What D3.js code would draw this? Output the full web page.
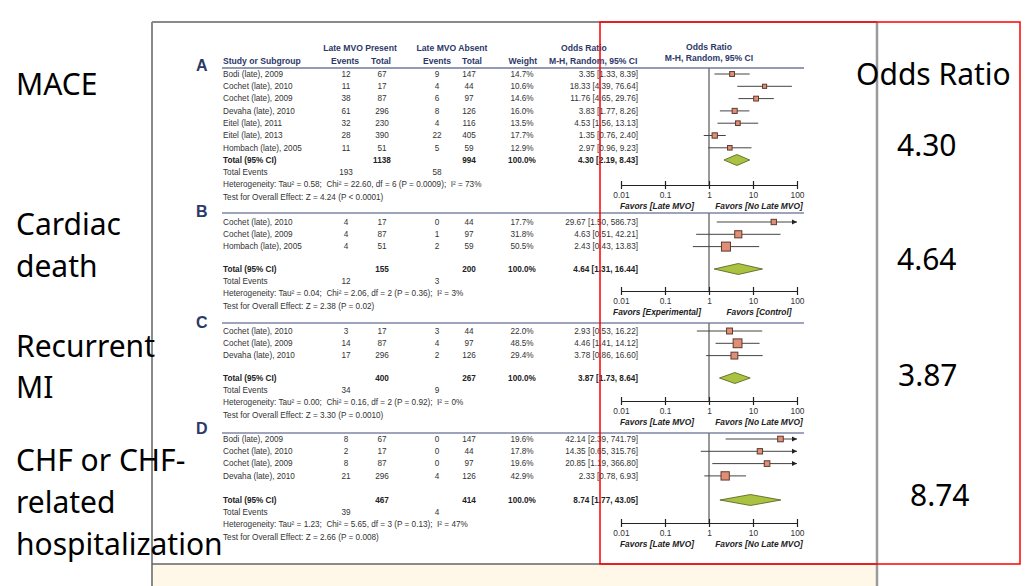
<!DOCTYPE html>
<html><head><meta charset="utf-8">
<script src="https://cdn.jsdelivr.net/npm/d3@7"></script>
<style>
body{margin:0;background:#fff}
text{white-space:pre}
</style>
</head><body>
<svg id="c" width="1035" height="586"></svg>
<script>
// ---------- DATA ----------
const outcomeLabels = [["MACE"], ["Cardiac","death"], ["Recurrent","MI"], ["CHF or CHF-","related","hospitalization"]];
const pooledORLabels = ["4.30","4.64","3.87","8.74"];
const rightTitle = "Odds Ratio";
const panelLetters = ["A","B","C","D"];
const tickValues = [0.01, 0.1, 1, 10, 100];
const tickLabels = ["0.01","0.1","1","10","100"];
const favorsLeft = ["Favors [Late MVO]","Favors [Experimental]","Favors [Late MVO]","Favors [Late MVO]"];
const favorsRight = ["Favors [No Late MVO]","Favors [Control]","Favors [No Late MVO]","Favors [No Late MVO]"];

// [study, events present, total present, events absent, total absent, weight %, OR, lower, upper]
const rowsA = [
  ["Bodi (late), 2009", 12, 67, 9, 147, 14.7, 3.35, 1.33, 8.39],
  ["Cochet (late), 2010", 11, 17, 4, 44, 10.6, 18.33, 4.39, 76.64],
  ["Cochet (late), 2009", 38, 87, 6, 97, 14.6, 11.76, 4.65, 29.76],
  ["Devaha (late), 2010", 61, 296, 8, 126, 16.0, 3.83, 1.77, 8.26],
  ["Eitel (late), 2011", 32, 230, 4, 116, 13.5, 4.53, 1.56, 13.13],
  ["Eitel (late), 2013", 28, 390, 22, 405, 17.7, 1.35, 0.76, 2.40],
  ["Hombach (late), 2005", 11, 51, 5, 59, 12.9, 2.97, 0.96, 9.23]
];
const rowsB = [
  ["Cochet (late), 2010", 4, 17, 0, 44, 17.7, 29.67, 1.50, 586.73],
  ["Cochet (late), 2009", 4, 87, 1, 97, 31.8, 4.63, 0.51, 42.21],
  ["Hombach (late), 2005", 4, 51, 2, 59, 50.5, 2.43, 0.43, 13.83]
];
const rowsC = [
  ["Cochet (late), 2010", 3, 17, 3, 44, 22.0, 2.93, 0.53, 16.22],
  ["Cochet (late), 2009", 14, 87, 4, 97, 48.5, 4.46, 1.41, 14.12],
  ["Devaha (late), 2010", 17, 296, 2, 126, 29.4, 3.78, 0.86, 16.60]
];
const rowsD = [
  ["Bodi (late), 2009", 8, 67, 0, 147, 19.6, 42.14, 2.39, 741.79],
  ["Cochet (late), 2010", 2, 17, 0, 44, 17.8, 14.35, 0.65, 315.76],
  ["Cochet (late), 2009", 8, 87, 0, 97, 19.6, 20.85, 1.19, 366.80],
  ["Devaha (late), 2010", 21, 296, 4, 126, 42.9, 2.33, 0.78, 6.93]
];
// [total present, total absent, OR, lower, upper]
const totalsA = [1138, 994, 4.30, 2.19, 8.43];
const totalsB = [155, 200, 4.64, 1.31, 16.44];
const totalsC = [400, 267, 3.87, 1.73, 8.64];
const totalsD = [467, 414, 8.74, 1.77, 43.05];
const eventsA = [193, 58], eventsB = [12, 3], eventsC = [34, 9], eventsD = [39, 4];
const hetA = "Heterogeneity: Tau² = 0.58;  Chi² = 22.60, df = 6 (P = 0.0009);  I² = 73%";
const hetB = "Heterogeneity: Tau² = 0.04;  Chi² = 2.06, df = 2 (P = 0.36);  I² = 3%";
const hetC = "Heterogeneity: Tau² = 0.00;  Chi² = 0.16, df = 2 (P = 0.92);  I² = 0%";
const hetD = "Heterogeneity: Tau² = 1.23;  Chi² = 5.65, df = 3 (P = 0.13);  I² = 47%";
const testA = "Test for Overall Effect: Z = 4.24 (P < 0.0001)";
const testB = "Test for Overall Effect: Z = 2.38 (P = 0.02)";
const testC = "Test for Overall Effect: Z = 3.30 (P = 0.0010)";
const testD = "Test for Overall Effect: Z = 2.66 (P = 0.008)";

// ---------- LAYOUT ----------
const svg = d3.select("#c");
const FONT = "'Liberation Sans', Arial, sans-serif";
const NAVY = "#2c3868";
const TXT = "#333";
const x = d3.scaleLog().domain([0.01, 100]).range([621, 797]);

// background pieces
svg.append("rect").attr("x", 152).attr("y", 564).attr("width", 725).attr("height", 22).attr("fill", "#fff8e8");
svg.append("line").attr("x1", 152).attr("x2", 877).attr("y1", 22).attr("y2", 22).attr("stroke", "#8a8a8a").attr("stroke-width", 2);
svg.append("line").attr("x1", 152).attr("x2", 152).attr("y1", 22).attr("y2", 586).attr("stroke", "#8a8a8a").attr("stroke-width", 2);
svg.append("line").attr("x1", 877).attr("x2", 877).attr("y1", 22).attr("y2", 586).attr("stroke", "#9a9a9a").attr("stroke-width", 2.5);
svg.append("line").attr("x1", 152).attr("x2", 877).attr("y1", 564).attr("y2", 564).attr("stroke", "#666").attr("stroke-width", 1.5);

// big labels left
const outcomeBaselines = [[95], [235, 277], [357, 398], [471, 513, 555]];
outcomeLabels.forEach((lines, i) => {
  lines.forEach((t, j) => {
    svg.append("text").attr("x", 16).attr("y", outcomeBaselines[i][j])
      .attr("font-family", "'Noto Sans', sans-serif").attr("font-size", 30).attr("fill", "#000").text(t);
  });
});
// right labels
svg.append("text").attr("x", 856).attr("y", 85).attr("font-family", "'Noto Sans', sans-serif")
  .attr("font-size", 30).attr("fill", "#000").text(rightTitle);
const orBaselines = [156, 270, 386, 506];
const orX = [897, 897, 898, 910];
pooledORLabels.forEach((t, i) => {
  svg.append("text").attr("x", orX[i]).attr("y", orBaselines[i]).attr("font-family", "'Noto Sans', sans-serif")
    .attr("font-size", 30).attr("fill", "#000").text(t);
});

// column header
function txt(g, xx, yy, t, opts = {}) {
  return g.append("text").attr("x", xx).attr("y", yy).attr("dy", "0.35em")
    .attr("font-family", FONT).attr("font-size", opts.size || 8.2)
    .attr("font-weight", opts.bold ? "bold" : "normal")
    .attr("font-style", opts.italic ? "italic" : "normal")
    .attr("text-anchor", opts.anchor || "start")
    .attr("fill", opts.fill || TXT).text(t);
}
const H = svg.append("g");
const hs = {bold: true, fill: NAVY, size: 8.6};
txt(H, 360, 48, "Late MVO Present", {...hs, anchor: "middle"});
txt(H, 452, 48, "Late MVO Absent", {...hs, anchor: "middle"});
txt(H, 561, 48, "Odds Ratio", hs);
txt(H, 709, 47, "Odds Ratio", {...hs, anchor: "middle"});
txt(H, 223, 61, "Study or Subgroup", hs);
txt(H, 345, 61, "Events", {...hs, anchor: "middle"});
txt(H, 381, 61, "Total", {...hs, anchor: "middle"});
txt(H, 437, 61, "Events", {...hs, anchor: "middle"});
txt(H, 472, 61, "Total", {...hs, anchor: "middle"});
txt(H, 537, 61, "Weight", {...hs, anchor: "end"});
txt(H, 549, 61, "M-H, Random, 95% CI", hs);
txt(H, 709, 58, "M-H, Random, 95% CI", {...hs, anchor: "middle"});

const panels = [
  {rows: rowsA, totals: totalsA, events: eventsA, het: hetA, test: testA, sepY: 68, firstY: 74, totalY: 160, axisY: 185, letterY: 65},
  {rows: rowsB, totals: totalsB, events: eventsB, het: hetB, test: testB, sepY: 213, firstY: 222, totalY: 269, axisY: 291, letterY: 211},
  {rows: rowsC, totals: totalsC, events: eventsC, het: hetC, test: testC, sepY: 323, firstY: 331, totalY: 378, axisY: 401, letterY: 322},
  {rows: rowsD, totals: totalsD, events: eventsD, het: hetD, test: testD, sepY: 433, firstY: 439, totalY: 500, axisY: 523, letterY: 428}
];
const colX = {study: 223, evP: 346, totP: 382, evA: 437, totA: 469, wt: 522, or: 638};
const f2 = d3.format(".2f");
const ciText = (o, l, h) => `${f2(o)} [${f2(l)}, ${f2(h)}]`;
const side = d3.scaleSqrt().domain([0, 50.5]).range([0, 9]);

panels.forEach((p, pi) => {
  const g = svg.append("g");
  const y = d3.scaleLinear().domain([0, 1]).range([p.firstY, p.firstY + 12.3]);
  // panel letter
  g.append("text").attr("x", 196).attr("y", p.letterY).attr("dy", "0.36em").attr("font-family", FONT)
    .attr("font-size", 16).attr("font-weight", "bold").attr("fill", NAVY).text(panelLetters[pi]);
  // separator
  g.append("line").attr("x1", 222).attr("x2", 804).attr("y1", p.sepY).attr("y2", p.sepY)
    .attr("stroke", pi === 0 ? "#6f789c" : "#3e4a78").attr("stroke-width", pi === 0 ? 1.6 : 1.2);
  // null line
  g.append("line").attr("x1", x(1)).attr("x2", x(1)).attr("y1", p.sepY).attr("y2", p.axisY)
    .attr("stroke", "#777").attr("stroke-width", 1.5);
  // study rows
  p.rows.forEach((r, i) => {
    const yy = y(i);
    txt(g, colX.study, yy, r[0]);
    txt(g, colX.evP, yy, String(r[1]), {anchor: "middle"});
    txt(g, colX.totP, yy, String(r[2]), {anchor: "middle"});
    txt(g, colX.evA, yy, String(r[3]), {anchor: "middle"});
    txt(g, colX.totA, yy, String(r[4]), {anchor: "middle"});
    txt(g, colX.wt, yy, r[5].toFixed(1) + "%", {anchor: "middle"});
    txt(g, colX.or, yy, ciText(r[6], r[7], r[8]), {anchor: "end"});
    const hiC = Math.min(r[8], 100);
    g.append("line").attr("x1", x(r[7])).attr("x2", x(hiC)).attr("y1", yy).attr("y2", yy)
      .attr("stroke", "#444").attr("stroke-width", 1);
    if (r[8] > 100) {
      const ax = x(100);
      g.append("path").attr("d", `M${ax},${yy}L${ax - 5},${yy - 2.5}L${ax - 5},${yy + 2.5}Z`).attr("fill", "#222");
    }
    const s = Math.max(4, side(r[5]));
    g.append("rect").attr("x", x(r[6]) - s / 2).attr("y", yy - s / 2).attr("width", s).attr("height", s)
      .attr("fill", "#e08e76").attr("stroke", "#5b3b30").attr("stroke-width", 1);
  });
  // total row
  const ty = p.totalY;
  const tb = {bold: true, fill: "#222"};
  txt(g, colX.study, ty, "Total (95% CI)", tb);
  txt(g, colX.totP, ty, String(p.totals[0]), {...tb, anchor: "middle"});
  txt(g, colX.totA, ty, String(p.totals[1]), {...tb, anchor: "middle"});
  txt(g, colX.wt, ty, "100.0%", {...tb, anchor: "middle"});
  txt(g, colX.or, ty, ciText(p.totals[2], p.totals[3], p.totals[4]), {...tb, anchor: "end"});
  const dx0 = x(p.totals[3]), dx1 = x(p.totals[4]), dxm = x(p.totals[2]);
  g.append("path").attr("d", `M${dx0},${ty}L${dxm},${ty - 5.5}L${dx1},${ty}L${dxm},${ty + 5.5}Z`)
    .attr("fill", "#a9c23f").attr("stroke", "#4f5a1c").attr("stroke-width", 0.8);
  // footer text
  txt(g, colX.study, ty + 12.5, "Total Events");
  txt(g, colX.evP, ty + 12.5, String(p.events[0]), {anchor: "middle"});
  txt(g, colX.evA, ty + 12.5, String(p.events[1]), {anchor: "middle"});
  txt(g, colX.study, ty + 24.5, p.het);
  txt(g, colX.study, ty + 37, p.test);
  // axis
  const axis = d3.axisBottom(x).tickValues(tickValues).tickFormat((d, i) => tickLabels[i])
    .tickSizeInner(4).tickSizeOuter(0).tickPadding(3);
  const ag = g.append("g").attr("transform", `translate(0,${p.axisY})`).call(axis);
  ag.select(".domain").attr("stroke", "#222").attr("stroke-width", 1.2);
  ag.selectAll(".tick line").attr("y1", -4).attr("y2", 4).attr("stroke", "#222").attr("stroke-width", 1.2);
  ag.selectAll(".tick text").attr("font-family", FONT).attr("font-size", 8.4).attr("fill", TXT);
  txt(g, 657, p.axisY + 21, favorsLeft[pi], {bold: true, italic: true, anchor: "middle", fill: "#222", size: 8.4});
  txt(g, 759, p.axisY + 21, favorsRight[pi], {bold: true, italic: true, anchor: "middle", fill: "#222", size: 8.4});
});

// red highlight box
svg.append("rect").attr("x", 600).attr("y", 22).attr("width", 420).attr("height", 542)
  .attr("fill", "none").attr("stroke", "#ff0000").attr("stroke-width", 1.5);
</script>
</body></html>
